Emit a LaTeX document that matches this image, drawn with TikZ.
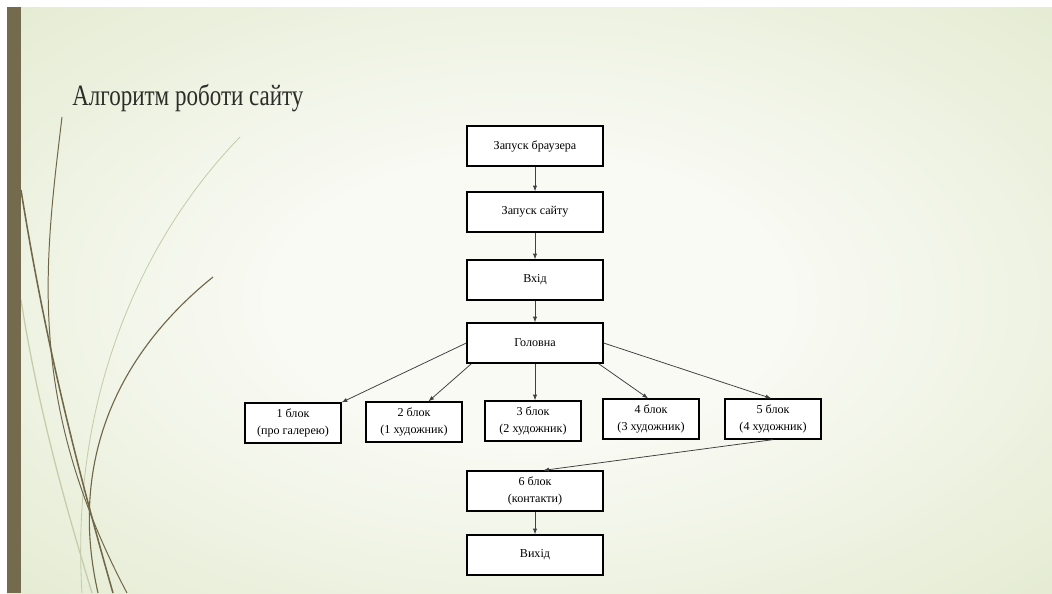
\documentclass[tikz,border=0pt]{standalone}
\usepackage{fontspec}
\setmainfont{Liberation Serif}
\newfontfamily\titlefont[FakeStretch=0.78]{Liberation Serif}
\usetikzlibrary{arrows.meta}
\definecolor{barbrown}{RGB}{116,106,78}
\definecolor{bgin}{RGB}{249,250,244}
\definecolor{bgout}{RGB}{216,227,190}
\definecolor{curvedark}{RGB}{112,102,72}
\definecolor{curvelight}{RGB}{198,204,170}
\definecolor{titlegray}{RGB}{45,45,40}
\pgfdeclareradialshading{slidebg}{\pgfpoint{0bp}{0bp}}{color(0bp)=(bgin); color(12bp)=(bgin); color(50bp)=(bgout)}
\tikzset{
    mainbox/.style={draw=black, line width=0.9pt, fill=white, minimum width=3.4cm,
        minimum height=1.0cm, inner sep=1pt, align=center,
        font=\fontsize{8.6}{12}\selectfont},
    blockbox/.style={mainbox, minimum width=2.4cm},
    link/.style={draw=black!75, line width=0.55pt, -{Latex[length=4pt,width=3pt]}},
}
\begin{document}
\begin{tikzpicture}[x=0.025cm, y=-0.025cm]
        \useasboundingbox (0,0) rectangle (1052,593);
        \fill[white] (0,0) rectangle (1052,593);
        %% Background
        \shade[shading=slidebg] (7,7) rectangle (1052,593);
        %% Curves
        \draw[curvelight, line width=0.6pt] (240,137) .. controls (140,240) and (70,400) .. (82,593);
        \draw[curvelight, line width=0.9pt] (21,300) .. controls (40,420) and (70,520) .. (92,593);
        \draw[curvedark, line width=0.7pt] (62,117) .. controls (45,260) and (25,400) .. (127,593);
        \draw[curvedark, line width=1.1pt] (21,190) .. controls (45,340) and (75,460) .. (113,593);
        \draw[curvedark, line width=0.8pt] (213,277) .. controls (110,360) and (70,470) .. (98,593);
        \fill[barbrown] (7,7) rectangle (21,593);
        %% Title
        \node[anchor=base west, text=titlegray, inner sep=0pt,
            font=\titlefont\fontsize{21}{25}\selectfont] (title) at (72,105) {Алгоритм роботи сайту};
        %% Main column
        \node[mainbox] (browser) at (535,146) {Запуск браузера};
        \node[mainbox] (site) at (535,212) {Запуск сайту};
        \node[mainbox] (enter) at (535,280) {Вхід};
        \node[mainbox] (main) at (535,343) {Головна};
        \draw[link] (browser) -- (site);
        \draw[link] (site) -- (enter);
        \draw[link] (enter) -- (main);
        %% Blocks
        \node[blockbox] (b1) at (293,423) {1 блок\\(про галерею)};
        \node[blockbox] (b2) at (414,422) {2 блок\\(1 художник)};
        \node[blockbox] (b3) at (533,421) {3 блок\\(2 художник)};
        \node[blockbox] (b4) at (651,419) {4 блок\\(3 художник)};
        \node[blockbox] (b5) at (773,419) {5 блок\\(4 художник)};
        \draw[link] (main.west) -- (b1.north east);
        \draw[link] (main.198) -- (b2.55);
        \draw[link] (main.south) -- (main.south |- b3.north);
        \draw[link] (main.-18) -- (b4.98);
        \draw[link] (main.east) -- (b5.95);
        %% End
        \node[mainbox] (b6) at (535,491) {6 блок\\(контакти)};
        \node[mainbox] (exit) at (535,555) {Вихід};
        \draw[link] (b5.south) -- (b6.68);
        \draw[link] (b6) -- (exit);
    \end{tikzpicture}
\end{document}
